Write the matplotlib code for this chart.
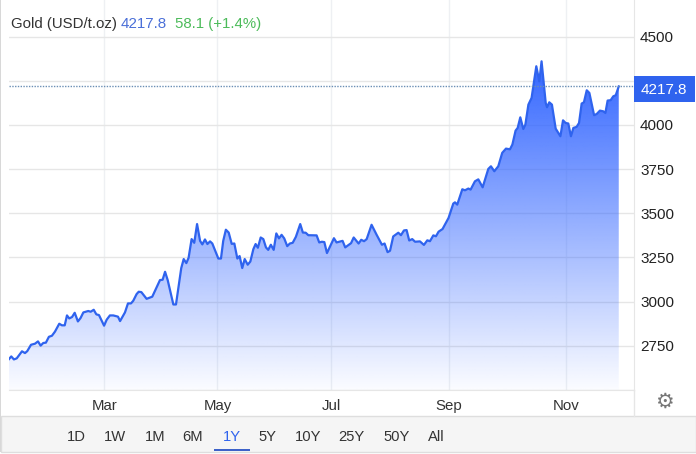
#!/usr/bin/env python3
"""Gold (USD/t.oz) one year area chart, trading-terminal style."""
import matplotlib

matplotlib.use("Agg")
import matplotlib.pyplot as plt  # noqa: E402
import numpy as np  # noqa: E402
from matplotlib.patches import Rectangle  # noqa: E402

plt.rcParams["font.family"] = ["Liberation Sans", "DejaVu Sans"]

# position along the time axis (roughly day of year)
days = [
    8, 9.2, 10.6, 12.1, 14.9, 16.5, 17.7, 19.7, 21.8, 23.4, 24.8, 26.2, 27.6, 29.2, 30.8, 32.4,
    34.7, 36.1, 37.6, 38.8, 40, 41.5, 42.9, 44.6, 46, 47.5, 50.1, 51.4, 53, 54.4, 55.8, 58.5,
    59.9, 61.6, 63.4, 65.9, 67, 69.6, 71.2, 72.8, 74, 75.8, 76.9, 78.3, 81.1, 84.1, 88.2, 89.6,
    90.9, 92.3, 95.3, 96.7, 99.5, 100.8, 102.2, 103.4, 105, 106.4, 107.9, 109.5, 110.7, 112.1,
    113.4, 114.8, 116, 119.2, 120.6, 121.8, 123.2, 124.7, 126.3, 127.7, 129.3, 130.5, 131.9,
    133.2, 134.8, 136.2, 137.8, 139, 140.2, 141.7, 143.1, 144.5, 145.7, 147.1, 148.6, 150,
    151.4, 152.8, 154.2, 155.8, 157.2, 158.7, 160.4, 162.7, 164.1, 165.6, 167, 171.4, 172.8,
    174.2, 175.5, 176.9, 180.6, 182, 185.2, 186.6, 189.7, 191.1, 193.7, 195.1, 196.6, 198,
    200.6, 203.3, 206.1, 207.5, 209.1, 210.4, 212.1, 214.8, 216.2, 217.8, 219.2, 220.6, 222.2,
    223.7, 226.3, 228.4, 230.2, 231.6, 233.4, 234.8, 236.2, 238.3, 241.5, 244, 244.9, 246.1,
    248.8, 250.2, 252, 253.2, 255.5, 257.3, 259.6, 262.6, 264, 265.8, 267.9, 270, 272, 274.1,
    275.4, 277.1, 278.2, 279.6, 281.2, 282.3, 283.9, 285.6, 288.1, 289.7, 290.9, 293.1, 293.8,
    295, 296.4, 298.4, 300.9, 302.3, 303.7, 305.1, 306.5, 307.8, 309.5, 310.8, 312.2, 313.4,
    314.9, 316.3, 318.8, 320.2, 321.9, 323.7, 324.8, 326, 327.6, 329, 330.3, 331.9,
]
prices = [
    2675, 2690, 2673, 2679, 2719, 2709, 2720, 2756, 2762, 2775, 2751, 2766, 2768, 2801, 2807, 2830,
    2875, 2866, 2866, 2922, 2905, 2913, 2937, 2888, 2907, 2939, 2947, 2943, 2954, 2928, 2924, 2864,
    2898, 2922, 2922, 2915, 2890, 2939, 2990, 2990, 3005, 3043, 3056, 3054, 3016, 3028, 3122, 3124,
    3169, 3122, 2984, 2984, 3190, 3241, 3218, 3248, 3354, 3333, 3439, 3344, 3324, 3352,
    3326, 3341, 3329, 3244, 3244, 3344, 3407, 3391, 3327, 3329, 3244, 3258, 3190,
    3241, 3209, 3227, 3297, 3326, 3305, 3363, 3354, 3307, 3293, 3322, 3293, 3386,
    3358, 3378, 3358, 3314, 3329, 3333, 3367, 3439, 3391, 3390, 3376, 3375, 3335,
    3339, 3337, 3275, 3359, 3335, 3344, 3307, 3331, 3363, 3329, 3350, 3342, 3354,
    3435, 3378, 3322, 3329, 3280, 3288, 3369, 3390, 3376, 3403, 3405, 3346, 3354,
    3339, 3341, 3321, 3347, 3342, 3375, 3370, 3396, 3411, 3474, 3555, 3562, 3549,
    3636, 3630, 3640, 3634, 3681, 3692, 3647, 3751, 3766, 3738, 3766, 3842, 3866, 3862,
    3889, 3968, 3983, 4043, 3977, 4002, 4115, 4153, 4332, 4247, 4360, 4125, 4100,
    4128, 4115, 3979, 3936, 4026, 4011, 4008, 3936, 3983, 3989, 4011, 4121, 4128,
    4196, 4181, 4055, 4062, 4081, 4077, 4068, 4138, 4140, 4162, 4168, 4217.8,
]

month_pos = [58.6, 118.7, 179.2, 241.6, 304.1]
month_labels = ["Mar", "May", "Jul", "Sep", "Nov"]
price_ticks = [2500, 2750, 3000, 3250, 3500, 3750, 4000, 4250, 4500]
price_labels = ["", "2750", "3000", "3250", "3500", "3750", "4000", "4250", "4500"]
ranges = ["1D", "1W", "1M", "6M", "1Y", "5Y", "10Y", "25Y", "50Y", "All"]
range_x = [76, 115, 155, 193, 232, 267, 308, 351, 397, 436]
active_range = "1Y"
last_price = prices[-1]

W, H = 696, 454
BLUE = "#2f63ee"
GRID = "#e6e6e6"
VGRID = "#eef0f3"
TEXT = "#333333"


def px(x, y):
    # pixel position from the top left -> figure fraction
    return x / W, 1 - y / H


fig = plt.figure(figsize=(W / 100, H / 100), dpi=100, facecolor="white")
ax = fig.add_axes([9 / W, 1 - 390 / H, 625 / W, 390 / H])
ax.set_facecolor("none")

# gradient area under the line, clipped to the line's polygon
top = max(prices)
poly = ax.fill_between(days, prices, 2500, color="none", linewidth=0)
grad = np.zeros((256, 2, 4))
grad[..., 0] = 51 / 255
grad[..., 1] = 102 / 255
grad[..., 2] = 1.0
grad[..., 3] = np.linspace(1, 0.02, 256)[:, None]
im = ax.imshow(grad, extent=[days[0], days[-1], 2500, top], origin="upper", aspect="auto", zorder=2)
im.set_clip_path(poly.get_paths()[0], ax.transData)

ax.plot(days, prices, color=BLUE, lw=1.6, zorder=3, solid_joinstyle="round")
ax.axhline(last_price, color="#6b8fb5", lw=1, ls=(0, (1, 1)), zorder=4)

ax.set_xlim(8, 340)
ax.set_ylim(2500, 4707)
ax.set_xticks(month_pos, month_labels)
ax.set_yticks(price_ticks, price_labels)
ax.yaxis.tick_right()
ax.tick_params(axis="y", length=0, pad=4.4, labelsize=11, labelcolor="#222222")
ax.tick_params(axis="x", length=0, pad=6.6, labelsize=10.8, labelcolor=TEXT)
ax.grid(axis="y", color=GRID, lw=1, zorder=1)
ax.grid(axis="x", color=VGRID, lw=1, zorder=1)
ax.set_axisbelow(True)
for side in ("top", "left"):
    ax.spines[side].set_visible(False)
ax.spines["right"].set_color(GRID)
ax.spines["bottom"].set_color(GRID)

# header
fig.text(*px(11, 24), "Gold (USD/t.oz)", color=TEXT, fontsize=10.8, va="center")
fig.text(*px(121, 24), f"{last_price}", color="#4a6fd8", fontsize=10.9, va="center")
fig.text(*px(175, 24), "58.1 (+1.4%)", color="#4cbb5a", fontsize=10.8, va="center")

# last price badge
fig.add_artist(Rectangle(px(634, 102), 61 / W, 26 / H, transform=fig.transFigure,
                         color=BLUE, lw=0, zorder=5))
fig.text(*px(664, 90), f"{last_price}", color="white", fontsize=11, ha="center",
         va="center", zorder=6)

# frame, range bar, settings
fig.add_artist(Rectangle(px(0, 452), 1 / W, 452 / H, transform=fig.transFigure,
                         color="#d8d8d8", lw=0, zorder=5))
fig.add_artist(plt.Line2D([634 / W, 634 / W], [1 - 390 / H, 1 - 416 / H], color=GRID, lw=1))
fig.add_artist(Rectangle(px(1, 452), 695 / W, 36 / H, transform=fig.transFigure,
                         facecolor="#f5f5f5", edgecolor="#dedede", lw=1, zorder=1))
for lab, x in zip(ranges, range_x):
    fig.text(*px(x, 437), lab, ha="center", va="center", fontsize=10.6, zorder=6,
             color=BLUE if lab == active_range else TEXT)
ix = range_x[ranges.index(active_range)]
fig.add_artist(Rectangle(px(ix - 18, 451), 36 / W, 2.5 / H, transform=fig.transFigure,
                         color="#3d62c9", lw=0, zorder=6))
fig.text(*px(664, 402), "\u2699", family="DejaVu Sans", color="#777777", fontsize=15,
         ha="center", va="center")

fig.savefig("out.png", dpi=100)
